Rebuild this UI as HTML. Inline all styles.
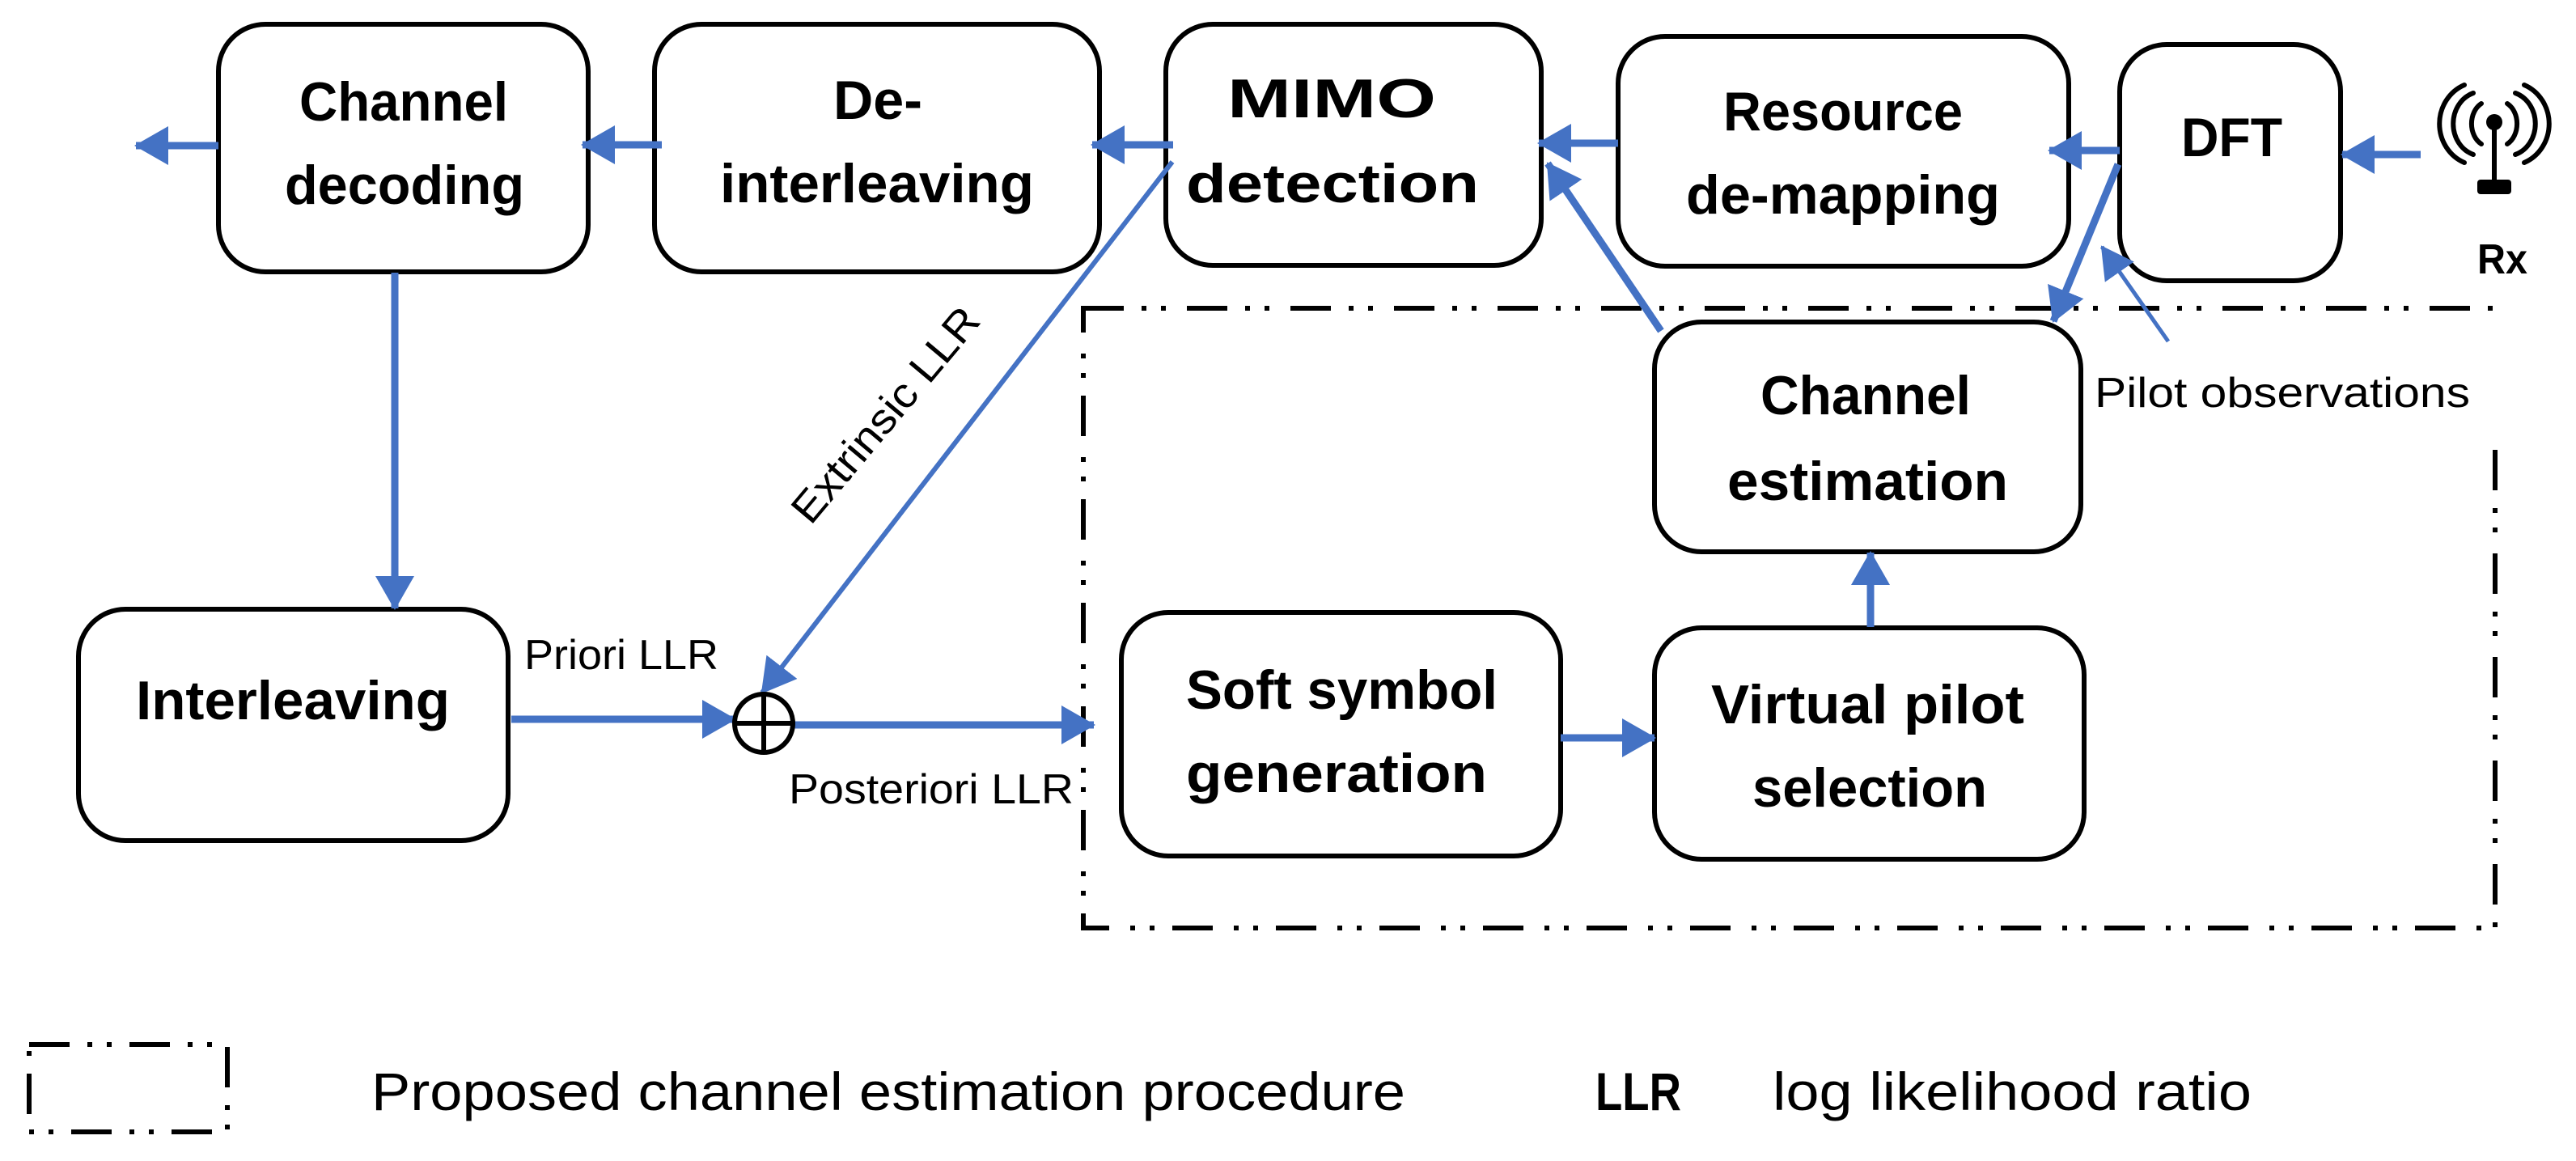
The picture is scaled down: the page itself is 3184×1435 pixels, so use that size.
<!DOCTYPE html>
<html><head><meta charset="utf-8"><style>
html,body{margin:0;padding:0;background:#fff;}
svg{display:block;}
text{font-family:"Liberation Sans",sans-serif;fill:#000;}
.b{font-weight:bold;font-size:68px;}
.s{font-size:52px;}
.box{fill:#fff;stroke:#000;stroke-width:6;}
.ln{stroke:#4472C4;stroke-width:9;fill:none;}
.dd{stroke:#000;stroke-width:6;fill:none;stroke-dasharray:50 22 6 18 6 26;}
</style></head><body>
<svg width="3184" height="1435" viewBox="0 0 3184 1435" xmlns="http://www.w3.org/2000/svg">
<defs>
<marker id="ah" markerUnits="userSpaceOnUse" markerWidth="44" markerHeight="48" refX="40" refY="24" orient="auto">
<path d="M0,0 L42,24 L0,48 Z" fill="#4472C4"/></marker>
<marker id="ah2" markerUnits="userSpaceOnUse" markerWidth="40" markerHeight="44" refX="38" refY="22" orient="auto">
<path d="M0,0 L40,22 L0,44 Z" fill="#4472C4"/></marker>
</defs>

<path class="dd" d="M1339,381 L3084,381 L3084,1147 L1339,1147 Z"/>
<rect x="3060" y="395" width="50" height="150" fill="#fff"/>

<rect class="box" x="270" y="30" width="457" height="306" rx="58"/>
<rect class="box" x="809" y="30" width="550" height="306" rx="58"/>
<rect class="box" x="1441" y="30" width="464" height="298" rx="58"/>
<rect class="box" x="2000" y="45" width="557" height="284" rx="58"/>
<rect class="box" x="2620" y="55" width="273" height="292" rx="58"/>
<rect class="box" x="2045" y="398" width="527" height="284" rx="58"/>
<rect class="box" x="2045" y="776" width="531" height="286" rx="58"/>
<rect class="box" x="1386" y="757" width="543" height="301" rx="58"/>
<rect class="box" x="97" y="753" width="531" height="286" rx="58"/>

<text class="b" x="370" y="149" textLength="258" lengthAdjust="spacingAndGlyphs">Channel</text>
<text class="b" x="352" y="252" textLength="296" lengthAdjust="spacingAndGlyphs">decoding</text>
<text class="b" x="1030" y="147" textLength="110" lengthAdjust="spacingAndGlyphs">De-</text>
<text class="b" x="890" y="250" textLength="388" lengthAdjust="spacingAndGlyphs">interleaving</text>
<text class="b" x="1517" y="145" textLength="258" lengthAdjust="spacingAndGlyphs">MIMO</text>
<text class="b" x="1466" y="250" textLength="362" lengthAdjust="spacingAndGlyphs">detection</text>
<text class="b" x="2130" y="161" textLength="296" lengthAdjust="spacingAndGlyphs">Resource</text>
<text class="b" x="2084" y="264" textLength="388" lengthAdjust="spacingAndGlyphs">de-mapping</text>
<text class="b" x="2696" y="193" textLength="125" lengthAdjust="spacingAndGlyphs">DFT</text>
<text class="b" x="2176" y="512" textLength="260" lengthAdjust="spacingAndGlyphs">Channel</text>
<text class="b" x="2135" y="618" textLength="347" lengthAdjust="spacingAndGlyphs">estimation</text>
<text class="b" x="2115" y="894" textLength="387" lengthAdjust="spacingAndGlyphs">Virtual pilot</text>
<text class="b" x="2166" y="997" textLength="290" lengthAdjust="spacingAndGlyphs">selection</text>
<text class="b" x="1466" y="876" textLength="385" lengthAdjust="spacingAndGlyphs">Soft symbol</text>
<text class="b" x="1466" y="979" textLength="372" lengthAdjust="spacingAndGlyphs">generation</text>
<text class="b" x="168" y="889" textLength="388" lengthAdjust="spacingAndGlyphs">Interleaving</text>

<line class="ln" x1="270" y1="180" x2="168" y2="180" marker-end="url(#ah)"/>
<line class="ln" x1="818" y1="179" x2="720" y2="179" marker-end="url(#ah)"/>
<line class="ln" x1="1450" y1="179" x2="1350" y2="179" marker-end="url(#ah)"/>
<line class="ln" x1="2000" y1="177" x2="1902" y2="177" marker-end="url(#ah)"/>
<line class="ln" x1="2620" y1="186" x2="2533" y2="186" marker-end="url(#ah)"/>
<line class="ln" x1="2992" y1="191" x2="2895" y2="191" marker-end="url(#ah)"/>
<line class="ln" x1="2053" y1="409" x2="1913" y2="202" marker-end="url(#ah)"/>
<line class="ln" x1="2618" y1="203" x2="2538" y2="397" marker-end="url(#ah)"/>
<line stroke="#4472C4" stroke-width="5" x1="2680" y1="422" x2="2598" y2="305" marker-end="url(#ah2)"/>
<line class="ln" x1="488" y1="337" x2="488" y2="752" marker-end="url(#ah)"/>
<line class="ln" x1="2312" y1="775" x2="2312" y2="683" marker-end="url(#ah)"/>
<line class="ln" x1="1929" y1="912" x2="2045" y2="912" marker-end="url(#ah)"/>
<line class="ln" x1="632" y1="889" x2="908" y2="889" marker-end="url(#ah)"/>
<line class="ln" x1="980" y1="896" x2="1352" y2="896" marker-end="url(#ah)"/>
<line stroke="#4472C4" stroke-width="6" x1="1449" y1="200" x2="942" y2="856" marker-end="url(#ah)"/>

<circle cx="944" cy="894" r="36" fill="#fff" stroke="#000" stroke-width="6"/>
<line x1="908" y1="894" x2="980" y2="894" stroke="#000" stroke-width="6"/>
<line x1="944" y1="858" x2="944" y2="930" stroke="#000" stroke-width="6"/>

<text class="s" x="648" y="827" textLength="240" lengthAdjust="spacingAndGlyphs">Priori LLR</text>
<text class="s" x="975" y="993" textLength="352" lengthAdjust="spacingAndGlyphs">Posteriori LLR</text>
<text class="s" transform="translate(1108,524) rotate(-50)" x="-165" y="0" textLength="330" lengthAdjust="spacingAndGlyphs">Extrinsic LLR</text>
<text class="s" x="2589" y="503" textLength="464" lengthAdjust="spacingAndGlyphs">Pilot observations</text>

<g fill="none" stroke="#000" stroke-width="6" stroke-linecap="round">
<path d="M3067,128 A22,28 0 0 0 3067,178"/>
<path d="M3099,128 A22,28 0 0 1 3099,178"/>
<path d="M3057,115 A36,40 0 0 0 3057,191"/>
<path d="M3109,115 A36,40 0 0 1 3109,191"/>
<path d="M3046,105 A50,52 0 0 0 3046,201"/>
<path d="M3120,105 A50,52 0 0 1 3120,201"/>
</g>
<circle cx="3083" cy="151" r="10" fill="#000"/>
<rect x="3080" y="151" width="6" height="75" fill="#000"/>
<rect x="3062" y="222" width="42" height="18" rx="4" fill="#000"/>
<text x="3062" y="338" font-size="52" font-weight="bold" textLength="62" lengthAdjust="spacingAndGlyphs">Rx</text>

<path class="dd" d="M36,1291 L281,1291 L281,1399 L36,1399 Z" style="stroke-dasharray:50 22 6 18 6 22"/>
<text x="459" y="1372" font-size="66" textLength="1278" lengthAdjust="spacingAndGlyphs">Proposed channel estimation procedure</text>
<text x="1972" y="1372" font-size="66" font-weight="bold" textLength="106" lengthAdjust="spacingAndGlyphs">LLR</text>
<text x="2191" y="1372" font-size="66" textLength="592" lengthAdjust="spacingAndGlyphs">log likelihood ratio</text>
</svg>
</body></html>
